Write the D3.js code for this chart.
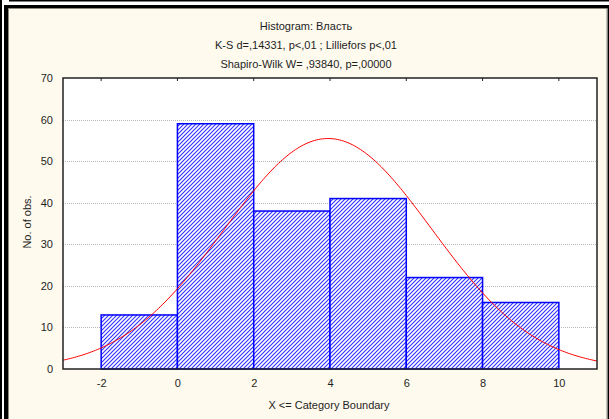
<!DOCTYPE html>
<html>
<head>
<meta charset="utf-8">
<script src="https://cdn.jsdelivr.net/npm/d3@7"></script>
<style>
  html, body { margin: 0; padding: 0; background: #fff; }
  svg { display: block; }
  text { font-family: "Liberation Sans", Arial, sans-serif; fill: #1e1e1e; }
</style>
</head>
<body>
<svg id="chart" width="609" height="419"></svg>
<script>
// Histogram bins: upper category boundaries and counts
const binStarts = [-2, 0, 2, 4, 6, 8];
const binWidth = 2;
const counts = [13, 59, 38, 41, 22, 16];
const xTicks = [-2, 0, 2, 4, 6, 8, 10];
const yTicks = [0, 10, 20, 30, 40, 50, 60, 70];
const titleLines = [
  "Histogram: Власть",
  "K-S d=,14331, p<,01 ; Lilliefors p<,01",
  "Shapiro-Wilk W= ,93840, p=,00000"
];
// Fitted normal distribution parameters
const fitMean = 3.95;
const fitSd = 2.72;

const svg = d3.select("#chart");
const W = 609, H = 419;

// Window frame
svg.append("rect").attr("x", 0).attr("y", 0).attr("width", W).attr("height", H).attr("fill", "#fff");
svg.append("rect").attr("x", 0).attr("y", 0).attr("width", 2).attr("height", H).attr("fill", "#000");
svg.append("rect").attr("x", 9).attr("y", 0).attr("width", W - 9).attr("height", 1.5).attr("fill", "#000");
svg.append("rect").attr("x", 4).attr("y", 5).attr("width", W - 4).attr("height", 3.5).attr("fill", "#000");
svg.append("rect").attr("x", 4).attr("y", 5).attr("width", 4).attr("height", H - 5).attr("fill", "#000");
svg.append("rect").attr("x", 607.5).attr("y", 5).attr("width", 1.5).attr("height", H - 5).attr("fill", "#000");
svg.append("rect").attr("x", 8.5).attr("y", 8.5).attr("width", 598.5).attr("height", H - 8)
  .attr("fill", "#fffaee").attr("stroke", "#8a8a80").attr("stroke-width", 1);

const plot = { left: 63, right: 597, top: 78, bottom: 369 };

const x = d3.scaleLinear().domain([-3, 11]).range([plot.left, plot.right]);
const y = d3.scaleLinear().domain([0, 70]).range([plot.bottom, plot.top]);

// Plot background
svg.append("rect")
  .attr("x", plot.left).attr("y", plot.top)
  .attr("width", plot.right - plot.left).attr("height", plot.bottom - plot.top)
  .attr("fill", "#fff");

// Diagonal hatch pattern for bars
const defs = svg.append("defs");
const pat = defs.append("pattern")
  .attr("id", "hatch").attr("patternUnits", "userSpaceOnUse")
  .attr("width", 4).attr("height", 4);
pat.append("rect").attr("width", 4).attr("height", 4).attr("fill", "#fff");
pat.append("path")
  .attr("d", "M-1,1 l2,-2 M0,4 l4,-4 M3,5 l2,-2")
  .attr("stroke", "#3030ff").attr("stroke-width", 1.1);

// Horizontal dotted gridlines
svg.append("g").selectAll("line")
  .data(yTicks.filter(d => d > 0 && d < 70))
  .join("line")
  .attr("x1", plot.left).attr("x2", plot.right)
  .attr("y1", d => Math.round(y(d)) + 0.5).attr("y2", d => Math.round(y(d)) + 0.5)
  .attr("stroke", "#b8b8b8").attr("stroke-width", 1)
  .attr("stroke-dasharray", "1,1");

// Bars
svg.append("g").selectAll("rect")
  .data(binStarts.map((s, i) => ({ s, c: counts[i] })))
  .join("rect")
  .attr("x", d => x(d.s))
  .attr("y", d => y(d.c))
  .attr("width", d => x(d.s + binWidth) - x(d.s))
  .attr("height", d => y(0) - y(d.c))
  .attr("fill", "url(#hatch)")
  .attr("stroke", "#0000ff").attr("stroke-width", 1.5);

// Expected normal curve
const total = d3.sum(counts);
const curveX = d3.range(-3, 11.001, 0.05);
const expected = v => total * binWidth * Math.exp(-0.5 * ((v - fitMean) / fitSd) ** 2) / (fitSd * Math.sqrt(2 * Math.PI));
svg.append("path")
  .datum(curveX)
  .attr("d", d3.line().x(d => x(d)).y(d => y(expected(d))))
  .attr("fill", "none").attr("stroke", "#ff0000").attr("stroke-width", 1);

// Plot frame
svg.append("rect")
  .attr("x", plot.left).attr("y", plot.top)
  .attr("width", plot.right - plot.left).attr("height", plot.bottom - plot.top)
  .attr("fill", "none").attr("stroke", "#222").attr("stroke-width", 1.5);

// Axes
const xAxis = d3.axisBottom(x).tickValues(xTicks).tickSize(0).tickPadding(10).tickFormat(d => String(d));
const gx = svg.append("g").attr("transform", `translate(0,${plot.bottom})`).call(xAxis);
gx.select(".domain").remove();
gx.selectAll("text").attr("font-size", 11).attr("fill", "#1e1e1e").style("font-family", "'Liberation Sans', Arial, sans-serif");

// Small inward ticks along the top frame
svg.append("g").selectAll("line")
  .data(xTicks)
  .join("line")
  .attr("x1", d => x(d)).attr("x2", d => x(d))
  .attr("y1", plot.top).attr("y2", plot.top + 3)
  .attr("stroke", "#222").attr("stroke-width", 1);

const yAxis = d3.axisLeft(y).tickValues(yTicks).tickSize(0).tickPadding(10).tickFormat(d => String(d));
const gy = svg.append("g").attr("transform", `translate(${plot.left},0)`).call(yAxis);
gy.select(".domain").remove();
gy.selectAll("text").attr("font-size", 11).attr("fill", "#1e1e1e").style("font-family", "'Liberation Sans', Arial, sans-serif");

// Titles
svg.append("g").selectAll("text")
  .data(titleLines)
  .join("text")
  .attr("x", 306).attr("y", (d, i) => 30 + i * 19)
  .attr("text-anchor", "middle").attr("font-size", 11)
  .text(d => d);

svg.append("text")
  .attr("x", 329).attr("y", 409)
  .attr("text-anchor", "middle").attr("font-size", 11)
  .text("X <= Category Boundary");

svg.append("text")
  .attr("transform", "translate(31,222) rotate(-90)")
  .attr("text-anchor", "middle").attr("font-size", 11)
  .text("No. of obs.");
</script>
</body>
</html>
